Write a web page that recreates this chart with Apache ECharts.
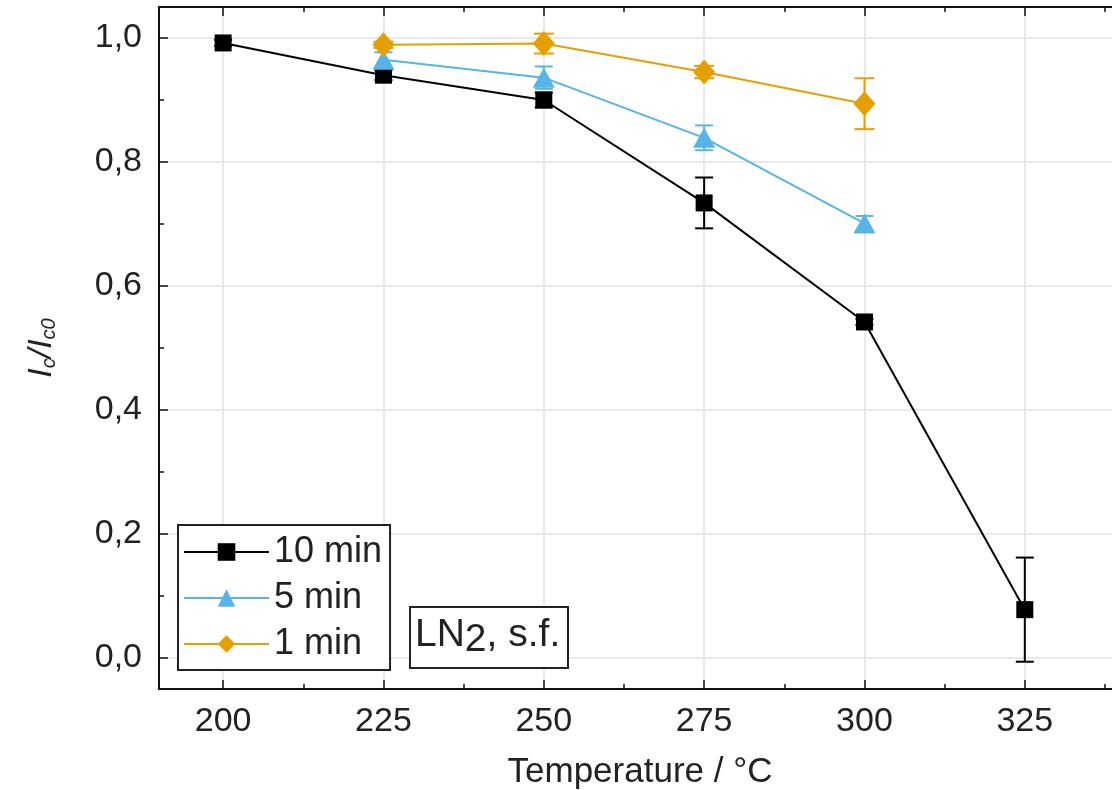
<!DOCTYPE html>
<html>
<head>
<meta charset="utf-8">
<script src="https://cdn.jsdelivr.net/npm/echarts@6/dist/echarts.min.js"></script>
<style>html,body{margin:0;padding:0;background:#fff;}#c{width:1112px;height:790px;}</style>
</head>
<body>
<div id="c"></div>
<script>
// ---- data ----
const seriesNames = ['10 min', '5 min', '1 min'];
const temps10 = [200, 225, 250, 275, 300, 325];
const vals10  = [0.992, 0.940, 0.900, 0.734, 0.542, 0.078];
const err10   = [0.005, 0.008, 0.012, 0.041, 0.005, 0.084];
const temps5  = [225, 250, 275, 300];
const vals5   = [0.965, 0.936, 0.839, 0.701];
const err5    = [0.012, 0.018, 0.020, 0.012];
const temps1  = [225, 250, 275, 300];
const vals1   = [0.989, 0.991, 0.945, 0.894];
const err1    = [0.005, 0.016, 0.010, 0.041];
const xTicks  = [200, 225, 250, 275, 300, 325];
const xMinor  = [212.5, 237.5, 262.5, 287.5, 312.5, 337.5];
const yTicks  = [0, 0.2, 0.4, 0.6, 0.8, 1.0];
const yMinor  = [0.1, 0.3, 0.5, 0.7, 0.9];

const colors = ['#000000', '#56B4E9', '#E69F00'];
const FONT = 'Liberation Sans, Arial, sans-serif';
const TXT = '#222';

function pts(t, v) { return t.map((x, i) => [x, v[i]]); }
function errPts(t, v, e) { return t.map((x, i) => [x, v[i], e[i]]); }

function errSeries(data, color, capW) {
  return {
    type: 'custom', z: 1, silent: true,
    data: data, encode: { x: 0, y: 1 },
    renderItem: function (params, api) {
      const x = api.value(0), y = api.value(1), e = api.value(2);
      const top = api.coord([x, y + e]);
      const bot = api.coord([x, y - e]);
      const st = { stroke: color, lineWidth: 2 };
      return { type: 'group', children: [
        { type: 'line', shape: { x1: top[0], y1: top[1], x2: bot[0], y2: bot[1] }, style: st },
        { type: 'line', shape: { x1: top[0] - capW, y1: top[1], x2: top[0] + capW, y2: top[1] }, style: st },
        { type: 'line', shape: { x1: bot[0] - capW, y1: bot[1], x2: bot[0] + capW, y2: bot[1] }, style: st }
      ]};
    }
  };
}

function xAx(pos, vals, len, labels, lineShow, split) {
  return {
    type: 'value', position: pos, min: 190, max: 340,
    axisLine: { show: lineShow, onZero: false, lineStyle: { color: '#111', width: 2 } },
    axisTick: { show: true, inside: true, length: len, customValues: vals, lineStyle: { color: '#111', width: 1.5 } },
    axisLabel: { show: labels, customValues: vals, margin: 16, fontSize: 34, color: TXT, fontFamily: FONT },
    splitLine: { show: split, customValues: vals, lineStyle: { color: '#e2e2e2', width: 1.5 } },
    name: labels ? 'Temperature / °C' : '', nameLocation: 'middle', nameGap: 66,
    nameTextStyle: { fontSize: 35, color: TXT, fontFamily: FONT }
  };
}
function fmtY(v) { return Math.abs(v).toFixed(1).replace('.', ','); }
function yAx(pos, vals, len, labels, lineShow, split) {
  return {
    type: 'value', position: pos, min: -0.05, max: 1.05,
    axisLine: { show: lineShow, onZero: false, lineStyle: { color: '#111', width: 2 } },
    axisTick: { show: true, inside: true, length: len, customValues: vals, lineStyle: { color: '#111', width: 1.5 } },
    axisLabel: { show: labels, customValues: vals, margin: 17, fontSize: 34, color: TXT, fontFamily: FONT, formatter: fmtY },
    splitLine: { show: split, customValues: vals, lineStyle: { color: '#e2e2e2', width: 1.5 } },
    name: labels ? '{i|I}{s|c}{i|/I}{s|c0}' : '', nameLocation: 'middle', nameGap: 100, nameRotate: 90,
    nameTextStyle: {
      color: TXT, fontFamily: FONT,
      rich: {
        i: { fontSize: 34, fontStyle: 'italic', color: TXT, fontFamily: FONT, lineHeight: 40, verticalAlign: 'bottom' },
        s: { fontSize: 20, fontStyle: 'italic', color: TXT, fontFamily: FONT, lineHeight: 20, verticalAlign: 'bottom' }
      }
    }
  };
}

const chart = echarts.init(document.getElementById('c'), null, { renderer: 'canvas' });
chart.setOption({
  backgroundColor: '#fff',
  animation: false,
  grid: { left: 159, top: 7, width: 962, height: 682, containLabel: false, outerBoundsMode: 'none' },
  xAxis: [
    xAx('bottom', xTicks, 9, true, true, true),
    xAx('bottom', xMinor, 5, false, false, false),
    xAx('top', xTicks, 9, false, true, false),
    xAx('top', xMinor, 5, false, false, false)
  ],
  yAxis: [
    yAx('left', yTicks, 9, true, true, true),
    yAx('left', yMinor, 5, false, false, false),
    yAx('right', yTicks, 9, false, true, false),
    yAx('right', yMinor, 5, false, false, false)
  ],
  legend: {
    orient: 'vertical', left: 178, top: 525,
    data: seriesNames,
    backgroundColor: '#fff', borderColor: '#222', borderWidth: 2,
    padding: [9, 8, 8, 5], itemWidth: 85, itemHeight: 22, itemGap: 10,
    textStyle: { fontSize: 36, color: TXT, fontFamily: FONT },
    z: 10
  },
  title: {
    text: '{a|LN}{b|2}{a|, s.f.}',
    left: 410, top: 607,
    borderColor: '#222', borderWidth: 2, backgroundColor: '#fff',
    padding: [9, 8, 8, 5],
    textStyle: {
      fontWeight: 'normal',
      rich: {
        a: { fontSize: 39, fontWeight: 'normal', color: TXT, fontFamily: FONT, lineHeight: 46, verticalAlign: 'top' },
        b: { fontSize: 39, fontWeight: 'normal', color: TXT, fontFamily: FONT, lineHeight: 46, verticalAlign: 'top', padding: [5, 0, 0, 0] }
      }
    },
    z: 10
  },
  series: [
    errSeries(errPts(temps10, vals10, err10), colors[0], 9),
    errSeries(errPts(temps5, vals5, err5), colors[1], 9),
    errSeries(errPts(temps1, vals1, err1), colors[2], 10),
    { name: seriesNames[0], type: 'line', z: 3, data: pts(temps10, vals10), symbol: 'rect', symbolSize: 17,
      itemStyle: { color: colors[0] }, lineStyle: { color: colors[0], width: 2 } },
    { name: seriesNames[1], type: 'line', z: 3, data: pts(temps5, vals5), symbol: 'triangle', symbolSize: [22, 20],
      itemStyle: { color: colors[1] }, lineStyle: { color: colors[1], width: 2 } },
    { name: seriesNames[2], type: 'line', z: 3, data: pts(temps1, vals1), symbol: 'diamond', symbolSize: [22, 25],
      itemStyle: { color: colors[2] }, lineStyle: { color: colors[2], width: 2 } }
  ]
});
</script>
</body>
</html>
